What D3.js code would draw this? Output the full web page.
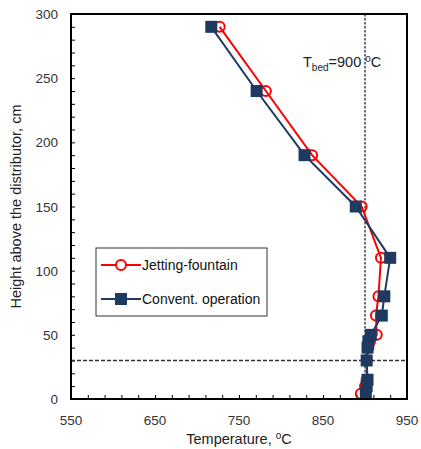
<!DOCTYPE html>
<html><head><meta charset="utf-8">
<script src="https://cdn.jsdelivr.net/npm/d3@7"></script>
<style>body{margin:0;background:#fff}text{font-family:"Liberation Sans",Arial,sans-serif}</style>
</head><body><svg id="c" width="421" height="449"></svg>
<script>
const heights = [290, 240, 190, 150, 110, 80, 65, 50, 45, 40, 30, 15, 10, 4];
const jetting = [727, 782, 837, 896, 919, 916, 913, 914, 906, 904, 902, 902, 900, 895];
const convent = [717, 771, 828, 889, 930, 923, 920, 907, 904, 903, 902, 903, 902, 901];
const xTickLabels = [550, 650, 750, 850, 950];
const yTickLabels = [0, 50, 100, 150, 200, 250, 300];
const seriesNames = ["Jetting-fountain", "Convent. operation"];
const bedTemp = 900, splashHeight = 30;

const svg = d3.select("#c");
const L = 71, R = 407, T = 14, B = 399;
const x = d3.scaleLinear().domain([550, 950]).range([L, R]);
const y = d3.scaleLinear().domain([0, 300]).range([B, T]);

// minor ticks inside
const gx = svg.append("g").attr("transform", `translate(0,${B})`)
  .call(d3.axisBottom(x).tickValues(d3.range(550, 951, 20)).tickSize(-4).tickFormat(""));
const gy = svg.append("g").attr("transform", `translate(${L},0)`)
  .call(d3.axisLeft(y).tickValues(d3.range(0, 301, 10)).tickSize(-4).tickFormat(""));
[gx, gy].forEach(g => { g.select(".domain").remove(); g.selectAll("line").attr("stroke", "#000").attr("stroke-width", 1); });

// tick labels
svg.append("g").selectAll("text").data(xTickLabels).join("text")
  .attr("x", d => x(d)).attr("y", 425).attr("text-anchor", "middle")
  .attr("font-size", 13.5).attr("fill", "#333").text(d => d);
svg.append("g").selectAll("text").data(yTickLabels).join("text")
  .attr("x", 58).attr("y", d => y(d) + 5).attr("text-anchor", "end")
  .attr("font-size", 13.5).attr("fill", "#333").text(d => d);

// reference lines
svg.append("line").attr("x1", x(bedTemp)).attr("x2", x(bedTemp)).attr("y1", T).attr("y2", B)
  .attr("stroke", "#444").attr("stroke-width", 1.5).attr("stroke-dasharray", "2.5,1.5");
svg.append("line").attr("x1", L).attr("x2", R).attr("y1", y(splashHeight)).attr("y2", y(splashHeight))
  .attr("stroke", "#333").attr("stroke-width", 1.3).attr("stroke-dasharray", "4,2");

const line = d3.line();
const jPts = heights.map((h, i) => [x(jetting[i]), y(h)]);
const cPts = heights.map((h, i) => [x(convent[i]), y(h)]);
const red = "#ff0000", navy = "#1f3a60";

svg.append("path").attr("d", line(jPts)).attr("fill", "none").attr("stroke", red).attr("stroke-width", 2);
svg.append("g").selectAll("circle").data(jPts).join("circle")
  .attr("cx", d => d[0]).attr("cy", d => d[1]).attr("r", 5)
  .attr("fill", "none").attr("stroke", red).attr("stroke-width", 2);
svg.append("path").attr("d", line(cPts)).attr("fill", "none").attr("stroke", navy).attr("stroke-width", 2);
svg.append("g").selectAll("rect").data(cPts).join("rect")
  .attr("x", d => d[0] - 6).attr("y", d => d[1] - 6).attr("width", 12).attr("height", 12)
  .attr("fill", navy);

// frame
svg.append("rect").attr("x", L).attr("y", T).attr("width", R - L).attr("height", B - T)
  .attr("fill", "none").attr("stroke", "#000").attr("stroke-width", 2);

// annotation
const ann = svg.append("text").attr("x", 303).attr("y", 67).attr("font-size", 14.5).attr("fill", "#222");
ann.append("tspan").text("T");
ann.append("tspan").attr("font-size", 10).attr("dy", 4).text("bed");
ann.append("tspan").attr("dy", -4).text("=900 ");
ann.append("tspan").attr("font-size", 10).attr("dy", -5).text("o");
ann.append("tspan").attr("dy", 5).text("C");

// legend
const lg = svg.append("g");
lg.append("rect").attr("x", 96).attr("y", 248).attr("width", 171).attr("height", 68)
  .attr("fill", "#fff").attr("stroke", "#333").attr("stroke-width", 1);
const rows = [{n: seriesNames[0], c: red, t: "c", y: 265}, {n: seriesNames[1], c: navy, t: "s", y: 299}];
rows.forEach(r => {
  lg.append("line").attr("x1", 101).attr("x2", 141).attr("y1", r.y).attr("y2", r.y)
    .attr("stroke", r.c).attr("stroke-width", 2);
  if (r.t === "c") lg.append("circle").attr("cx", 121).attr("cy", r.y).attr("r", 5)
    .attr("fill", "#fff").attr("stroke", r.c).attr("stroke-width", 2);
  else lg.append("rect").attr("x", 115).attr("y", r.y - 6).attr("width", 12).attr("height", 12).attr("fill", r.c);
  lg.append("text").attr("x", 142).attr("y", r.y + 5).attr("font-size", 14).attr("fill", "#111").text(r.n);
});

// axis titles
const xt = svg.append("text").attr("x", 239).attr("y", 444).attr("text-anchor", "middle")
  .attr("font-size", 14.5).attr("fill", "#222");
xt.append("tspan").text("Temperature, ");
xt.append("tspan").attr("font-size", 10).attr("dy", -5).text("o");
xt.append("tspan").attr("dy", 5).text("C");
svg.append("text").attr("transform", `translate(21,${(T + B) / 2}) rotate(-90)`)
  .attr("text-anchor", "middle").attr("font-size", 14.5).attr("fill", "#222")
  .text("Height above the distributor, cm");
</script></body></html>
